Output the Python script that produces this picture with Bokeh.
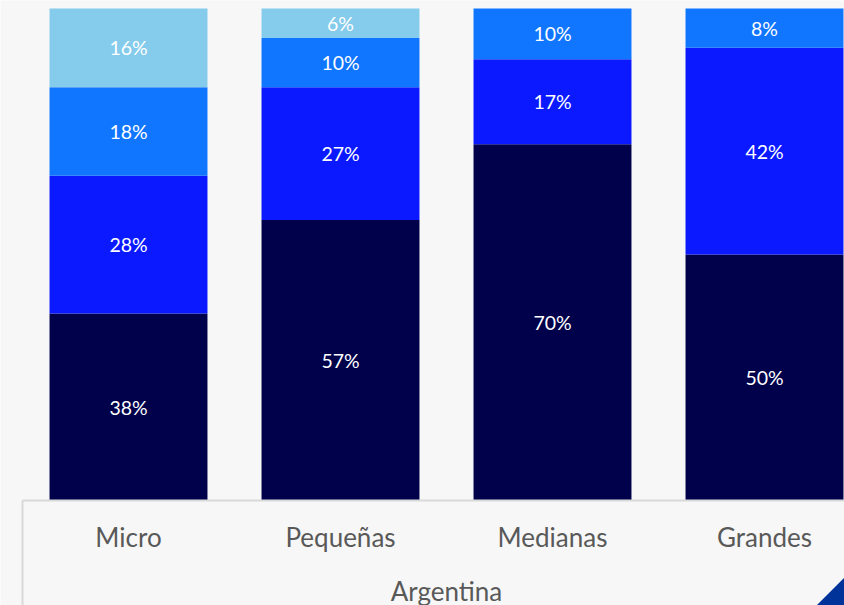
from bokeh.plotting import figure
from bokeh.models import ColumnDataSource, Range1d, FixedTicker, LinearAxis, PolyAnnotation
from bokeh.core.properties import value
from bokeh.embed import file_html
from bokeh.resources import INLINE
import numpy as np

# ---- data ----
categories = ["Micro", "Pequeñas", "Medianas", "Grandes"]
region = "Argentina"
series = ["s1", "s2", "s3", "s4"]
s1 = [38, 57, 72.4, 50]
s2 = [28, 27, 17.3, 42]
s3 = [18, 10, 10.3, 8]
s4 = [16, 6, 0, 0]
l1 = ["38%", "57%", "70%", "50%"]
l2 = ["28%", "27%", "17%", "42%"]
l3 = ["18%", "10%", "10%", "8%"]
l4 = ["16%", "6%", "", ""]
colors = ["#00004b", "#0a19ff", "#1076ff", "#85cbeb"]

xs = list(range(len(categories)))
src = ColumnDataSource(dict(x=xs, s1=s1, s2=s2, s3=s3, s4=s4))

W, H = 844, 605
px_per_cat = 212.0
px_per_pct = 4.92
x0 = -128 / px_per_cat
x1 = x0 + W / px_per_cat
y_top = 100 + 8 / px_per_pct
y_bot = -(H - 500) / px_per_pct

p = figure(width=W, height=H,
           x_range=Range1d(x0, x1), y_range=Range1d(y_bot, y_top),
           output_backend="svg", toolbar_location=None,
           x_axis_location=None, y_axis_location=None,
           min_border=0,
           background_fill_color="#f7f7f7", border_fill_color="#f7f7f7",
           outline_line_color=None)
p.grid.visible = False

p.vbar_stack(series, x="x", width=0.745, color=colors, line_color=None, source=src)

# labels at segment centres
vals = np.array([s1, s2, s3, s4], dtype=float)
labs = [l1, l2, l3, l4]
tops = np.cumsum(vals, axis=0)
bots = tops - vals
lx, ly, lt = [], [], []
for k in range(vals.shape[0]):
    for i in xs:
        if labs[k][i]:
            lx.append(i)
            ly.append((tops[k, i] + bots[k, i]) / 2)
            lt.append(labs[k][i])
p.text(x=lx, y=ly, text=lt, text_align="center", text_baseline="middle",
       text_color="white", text_font=value("Lato"), text_font_size="19.5px")

# border of the category label box (top and left edges)
p.segment(x0=[-0.5, -0.5], y0=[0, 0], x1=[-0.5, x1 + 0.1], y1=[y_bot, 0],
          line_color="#d9d9d9", line_width=2)

# bounds chosen so the axis label sits centred under the four categories
ax = LinearAxis(ticker=FixedTicker(ticks=xs, minor_ticks=[]),
                major_label_overrides={i: c for i, c in enumerate(categories)},
                axis_label=region, bounds=(3 - x1, 3.6), fixed_location=0)
ax.axis_line_color = None
ax.major_tick_line_color = None
ax.major_tick_in = 0
ax.major_tick_out = 0
ax.minor_tick_line_color = None
ax.minor_tick_in = 0
ax.minor_tick_out = 0
ax.major_label_text_font = "Lato"
ax.major_label_text_font_size = "26px"
ax.major_label_text_color = "#595959"
ax.major_label_standoff = 20
ax.axis_label_text_font = "Lato"
ax.axis_label_text_font_size = "26px"
ax.axis_label_text_font_style = "normal"
ax.axis_label_text_color = "#595959"
ax.axis_label_standoff = 19
p.add_layout(ax, "below")

tri = PolyAnnotation(xs=[816, 844, 844], ys=[605, 577, 605],
                     xs_units="canvas", ys_units="canvas",
                     fill_color="#003399", fill_alpha=1, line_color=None)
p.add_layout(tri)

open("out.html", "w").write(file_html(p, INLINE))
